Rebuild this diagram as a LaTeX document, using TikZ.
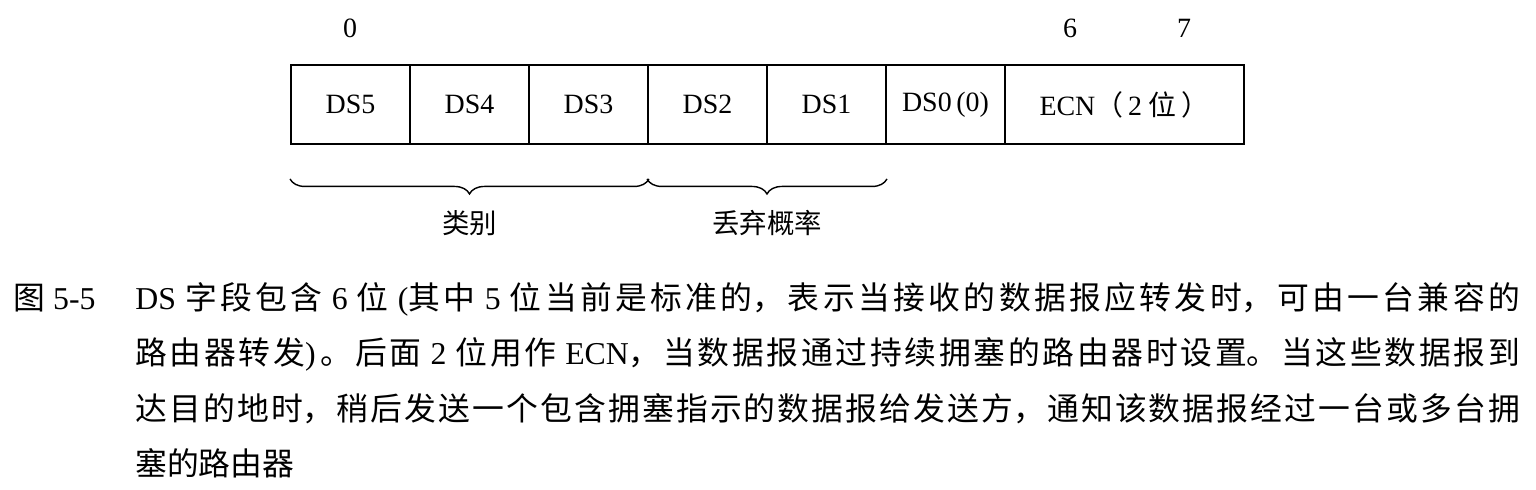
\documentclass[tikz,border=0pt]{standalone}
\usepackage{fontspec}
\setmainfont{Liberation Serif}
\newfontfamily\cjk{Noto Sans CJK SC}
\usetikzlibrary{decorations.pathreplacing}
\XeTeXlinebreaklocale "zh"
\XeTeXlinebreakskip=0pt plus 6pt

\begin{document}
\begin{tikzpicture}[
    x=0.02cm, y=-0.02cm,
    field/.style={draw, line width=1.1pt, minimum width=2.38cm, minimum height=1.58cm,
      inner sep=0pt, font=\fontsize{15.9}{18}\selectfont},
    bitno/.style={inner sep=0pt, font=\fontsize{15.9}{18}\selectfont},
    groupbrace/.style={decorate, decoration={brace, mirror, amplitude=0.3cm}, line width=0.8pt},
    grouplabel/.style={inner sep=0pt, font=\cjk\fontsize{15.6}{18}\selectfont},
    caption/.style={inner sep=0pt, anchor=base west, font=\fontsize{18.1}{31.6}\selectfont}
  ]
    \useasboundingbox (0,0) rectangle (1536,490);

    % bit numbers
    \node[bitno] (bit0) at (350,28) {0};
    \node[bitno] (bit6) at (1070,28) {6};
    \node[bitno] (bit7) at (1184,28) {7};

    % the DS field
    \node[field] (ds5) at (350.5,104.5) {DS5};
    \node[field] (ds4) at (469.5,104.5) {DS4};
    \node[field] (ds3) at (588.5,104.5) {DS3};
    \node[field] (ds2) at (707.5,104.5) {DS2};
    \node[field] (ds1) at (826.5,104.5) {DS1};
    \node[field] (ds0) at (945.5,104.5) {DS0\,(0)};
    \node[field, minimum width=4.78cm] (ecn) at (1124.5,104.5) {ECN{\cjk （}\,2 {\cjk 位}\,{\cjk ）}};

    \draw[groupbrace] ([yshift=-0.68cm]ds5.south west) -- ([yshift=-0.68cm]ds3.south east)
      node[grouplabel, midway, yshift=-0.88cm] (klass) {类别};
    \draw[groupbrace] ([yshift=-0.68cm]ds2.south west) -- ([yshift=-0.68cm]ds1.south east)
      node[grouplabel, midway, yshift=-0.88cm] (drop) {丢弃概率};

    % caption
    \node[caption] (fignum) at (13,309) {{\cjk 图} 5-5};
    \node[caption, text width=27.7cm, align=justify] (captext) at (135,309)
      {DS {\cjk 字段包含} 6 {\cjk 位} ({\cjk 其中} 5 {\cjk 位当前是标准的，表示当接收的数据报应转发时，可由一台兼容的}\linebreak
       {\cjk 路由器转发})\,{\cjk 。后面} 2 {\cjk 位用作} ECN{\cjk ，当数据报通过持续拥塞的路由器时设置。当这些数据报到}\linebreak
       {\cjk 达目的地时，稍后发送一个包含拥塞指示的数据报给发送方，通知该数据报经过一台或多台拥}\linebreak
       {\cjk 塞的路由器}};
  \end{tikzpicture}
\end{document}
